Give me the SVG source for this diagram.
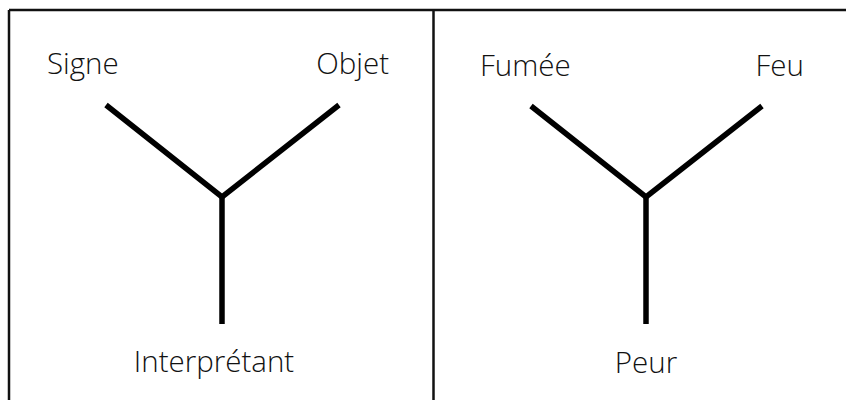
<svg xmlns="http://www.w3.org/2000/svg" width="846" height="400" viewBox="0 0 846 400">
<style>
.lbl{font-family:"Open Sans","Noto Sans","DejaVu Sans",sans-serif;font-size:29.5px;font-weight:300;fill:#111}
.frame{stroke:#111;stroke-width:2.5;fill:none}
.arm{stroke:#000;stroke-width:5.5;fill:none;stroke-linecap:butt}
</style>
<rect width="846" height="400" fill="#fff"/>
<g id="frame">
<line class="frame" x1="9" y1="10" x2="846" y2="10"/>
<line class="frame" x1="9" y1="10" x2="9" y2="400"/>
<line class="frame" x1="433.5" y1="10" x2="433.5" y2="400"/>
</g>
<g id="connectors">
<polyline class="arm" points="106,105 222,197 339,105"/>
<line class="arm" x1="222" y1="197" x2="222" y2="324"/>
<polyline class="arm" points="531,106 646,197 762,106"/>
<line class="arm" x1="646" y1="197" x2="646" y2="324"/>
</g>
<g id="signe"><text class="lbl" x="47" y="74">Signe</text></g>
<g id="objet"><text class="lbl" x="389" y="74" text-anchor="end">Objet</text></g>
<g id="interpretant"><text class="lbl" x="214" y="372" text-anchor="middle">Interprétant</text></g>
<g id="fumee"><text class="lbl" x="480" y="76">Fumée</text></g>
<g id="feu"><text class="lbl" x="804" y="76" text-anchor="end">Feu</text></g>
<g id="peur"><text class="lbl" x="646" y="373" text-anchor="middle">Peur</text></g>
</svg>
